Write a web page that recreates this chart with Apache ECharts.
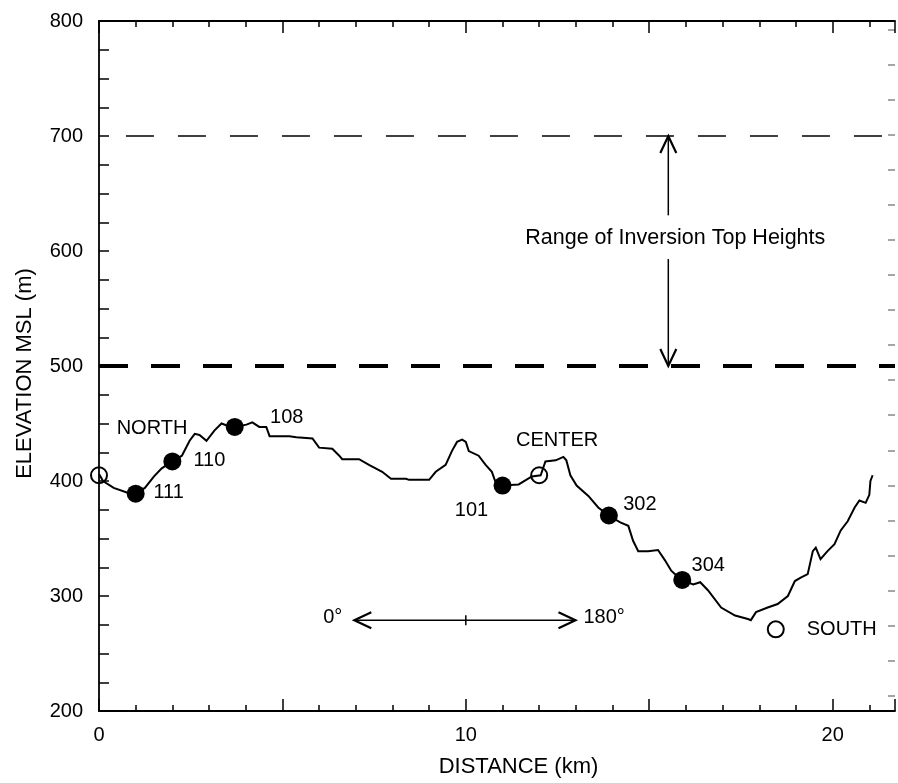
<!DOCTYPE html>
<html>
<head>
<meta charset="utf-8">
<script src="https://cdn.jsdelivr.net/npm/echarts@6/dist/echarts.min.js"></script>
<style>
html,body{margin:0;padding:0;background:#fff;}
#chart{width:898px;height:783px;}
</style>
</head>
<body>
<div id="chart"></div>
<script>
// ---- Data ----
const distanceKm = [0.0,0.11,0.4,0.76,1.0,1.25,1.5,1.71,2.0,2.26,2.47,2.61,2.74,2.93,3.15,3.34,3.5,3.7,4.02,4.18,4.37,4.56,4.65,5.19,5.38,5.82,6.0,6.36,6.55,6.63,7.09,7.36,7.72,7.96,8.37,8.45,9.0,9.18,9.45,9.62,9.76,9.9,10.0,10.08,10.35,10.54,10.71,10.8,11.0,11.44,11.8,12.04,12.17,12.45,12.66,12.74,12.85,13.02,13.34,13.61,13.89,14.21,14.43,14.56,14.7,14.97,15.24,15.43,15.6,15.87,16.2,16.39,16.6,16.96,17.34,17.69,17.77,17.91,18.23,18.5,18.78,18.97,19.13,19.32,19.46,19.54,19.67,19.86,20.05,20.22,20.41,20.6,20.73,20.9,21.0,21.03,21.09];
const elevationM = [406,400,394,390,389,394,404,411,417,422,435,441,440,435,444,450,448,447,449,451,447,447,439,439,438,437,429,428,422,419,419,414,408,402,402,401,401,408,414,426,434,436,434,426,422,414,408,400,396,397,404,405,417,418,421,418,405,396,387,377,370,364,361,348,339,339,340,331,322,314,310,312,305,290,283,280,279,286,290,293,300,313,316,319,339,342,332,339,345,357,365,377,383,381,388,400,405];

const stationNames = ['111','110','108','101','302','304'];
const stationKm    = [1.0, 2.0, 3.7, 11.0, 13.9, 15.9];
const stationElev  = [389, 417, 447, 396, 370, 314];

const siteNames = ['NORTH','CENTER','SOUTH'];
const siteKm    = [0.0, 12.0, 18.45];
const siteElev  = [405, 405, 271];

const inversionTopMax = 700;
const inversionTopMin = 500;

const xTickLabels = [0, 10, 20];
const yTickLabels = [200, 300, 400, 500, 600, 700, 800];
const rightFeetTicks = [700,800,900,1000,1100,1200,1300,1400,1500,1600,1700,1800,1900,2000,2100,2200,2300,2400,2500,2600];

const xMin = 0, xMax = 21.7, yMin = 200, yMax = 800;
const M_TO_FT = 3.28084;

// annotation geometry (data coordinates)
const rangeArrow = {x: 15.52, top: 700, gapTop: 631, gapBottom: 593, bottom: 500, labelX: 15.71, labelY: 611};
const azimuthArrow = {x0: 6.96, x1: 12.99, y: 279, tickX: 10};

// ---- Label layout (pixel offsets from marker centres) ----
const stationLabelOffset = {'111':[33,-1],'110':[37,-1],'108':[52,-9],'101':[-31,25],'302':[31,-11],'304':[26,-14]};
const siteLabelOffset = {'NORTH':[53,-47],'CENTER':[18,-35],'SOUTH':[66,0]};

const FONT = "'Liberation Sans', Arial, Helvetica, sans-serif";
const BLACK = '#000';

function bottomTopAxis(position, interval, tickLen, showLine, showLabel){
  return {
    type:'value', position, min:xMin, max:xMax, interval,
    axisLine:{show:showLine, onZero:false, lineStyle:{color:BLACK, width:1.8}},
    axisTick:{show:true, inside:true, length:tickLen, lineStyle:{color:BLACK, width:1.5}},
    axisLabel:{show:showLabel, margin:14, color:BLACK, fontSize:20, fontFamily:FONT,
      formatter:(v)=> xTickLabels.indexOf(v) >= 0 ? String(v) : ''},
    splitLine:{show:false}
  };
}

const xAxes = [
  Object.assign(bottomTopAxis('bottom', 1, 6, true, true), {
    name:'DISTANCE (km)', nameLocation:'middle', nameGap:45,
    nameTextStyle:{color:BLACK, fontSize:22, fontFamily:FONT, padding:[0,0,0,43]}
  }),
  bottomTopAxis('bottom', 5, 12, false, false),
  bottomTopAxis('top', 1, 6, true, false),
  bottomTopAxis('top', 5, 12, false, false)
];

const yAxes = [
  {
    type:'value', position:'left', min:yMin, max:yMax, interval:25,
    name:'ELEVATION MSL (m)', nameLocation:'middle', nameGap:63,
    nameTextStyle:{color:BLACK, fontSize:22, fontFamily:FONT, padding:[0,15,0,0]},
    axisLine:{show:true, onZero:false, lineStyle:{color:BLACK, width:1.8}},
    axisTick:{show:true, inside:true, length:10, lineStyle:{color:BLACK, width:1.5}},
    axisLabel:{show:true, margin:16, color:BLACK, fontSize:20, fontFamily:FONT,
      formatter:(v)=> yTickLabels.indexOf(v) >= 0 ? String(v) : ''},
    splitLine:{show:false}
  },
  {
    type:'value', position:'right', min:yMin*M_TO_FT, max:yMax*M_TO_FT,
    axisLine:{show:true, onZero:false, lineStyle:{color:'rgba(0,0,0,0)', width:1}},
    axisTick:{show:true, inside:true, length:7, customValues:rightFeetTicks, lineStyle:{color:'#888', width:1.5}},
    axisLabel:{show:false},
    splitLine:{show:false}
  }
];

function hLine(yv, width, dash, offset, startX){
  return {
    type:'line', xAxisIndex:0, yAxisIndex:0, silent:true, symbol:'none', z:2,
    data:[[startX, yv],[xMax, yv]],
    lineStyle:{color:BLACK, width, type:dash, dashOffset:offset, cap:'butt'}
  };
}

const annotationSeries = {
  type:'custom', xAxisIndex:0, yAxisIndex:0, silent:true, clip:false, z:5,
  data:[[0,0]],
  renderItem:function(params, api){
    const L = 17, W = 8;
    const t = api.coord([rangeArrow.x, rangeArrow.top]);
    const gt = api.coord([rangeArrow.x, rangeArrow.gapTop]);
    const gb = api.coord([rangeArrow.x, rangeArrow.gapBottom]);
    const b = api.coord([rangeArrow.x, rangeArrow.bottom]);
    const lbl = api.coord([rangeArrow.labelX, rangeArrow.labelY]);
    const a0 = api.coord([azimuthArrow.x0, azimuthArrow.y]);
    const a1 = api.coord([azimuthArrow.x1, azimuthArrow.y]);
    const at = api.coord([azimuthArrow.tickX, azimuthArrow.y]);
    const ls = {stroke:BLACK, lineWidth:1.5, fill:null};
    const hs = {stroke:BLACK, lineWidth:2.2, fill:null, lineJoin:'miter'};
    return {
      type:'group',
      children:[
        {type:'line', shape:{x1:t[0], y1:t[1], x2:gt[0], y2:gt[1]}, style:ls},
        {type:'line', shape:{x1:gb[0], y1:gb[1], x2:b[0], y2:b[1]}, style:ls},
        {type:'polyline', shape:{points:[[t[0]-W,t[1]+L],[t[0],t[1]],[t[0]+W,t[1]+L]]}, style:hs},
        {type:'polyline', shape:{points:[[b[0]-W,b[1]-L],[b[0],b[1]],[b[0]+W,b[1]-L]]}, style:hs},
        {type:'text', x:lbl[0], y:lbl[1], style:{text:'Range of Inversion Top Heights', fill:BLACK,
          fontSize:21.5, fontFamily:FONT, align:'center', verticalAlign:'middle'}},
        {type:'line', shape:{x1:a0[0], y1:a0[1], x2:a1[0], y2:a1[1]}, style:ls},
        {type:'line', shape:{x1:at[0], y1:at[1]-5, x2:at[0], y2:at[1]+5}, style:ls},
        {type:'polyline', shape:{points:[[a0[0]+L,a0[1]-W],[a0[0],a0[1]],[a0[0]+L,a0[1]+W]]}, style:hs},
        {type:'polyline', shape:{points:[[a1[0]-L,a1[1]-W],[a1[0],a1[1]],[a1[0]-L,a1[1]+W]]}, style:hs},
        {type:'text', x:a0[0]-12, y:a0[1]-3, style:{text:'0°', fill:BLACK, fontSize:20, fontFamily:FONT, align:'right', verticalAlign:'middle'}},
        {type:'text', x:a1[0]+8, y:a1[1]-3, style:{text:'180°', fill:BLACK, fontSize:20, fontFamily:FONT, align:'left', verticalAlign:'middle'}}
      ]
    };
  }
};

const chart = echarts.init(document.getElementById('chart'), null, {renderer:'canvas'});
chart.setOption({
  animation:false,
  backgroundColor:'#fff',
  textStyle:{fontFamily:FONT},
  grid:{left:99, right:1, top:21, bottom:69, containLabel:false},
  xAxis:xAxes,
  yAxis:yAxes,
  series:[
    hLine(inversionTopMax, 1.5, [28,24], 28, 0.08),
    hLine(inversionTopMin, 4, [29,23], 0, 0),
    {
      type:'line', xAxisIndex:0, yAxisIndex:0, symbol:'none', z:3,
      data: distanceKm.map((x,i)=>[x, elevationM[i]]),
      lineStyle:{color:BLACK, width:2, join:'miter'}
    },
    {
      type:'scatter', xAxisIndex:0, yAxisIndex:0, z:4, symbol:'circle', symbolSize:18,
      itemStyle:{color:BLACK, opacity:1},
      data: stationNames.map((n,i)=>({
        name:n, value:[stationKm[i], stationElev[i]],
        label:{show:true, position:'inside', offset:stationLabelOffset[n], formatter:n,
          color:BLACK, fontSize:20, fontFamily:FONT, align:'center', verticalAlign:'middle'}
      }))
    },
    {
      type:'scatter', xAxisIndex:0, yAxisIndex:0, z:4, symbol:'circle', symbolSize:16,
      itemStyle:{color:'rgba(255,255,255,0)', borderColor:BLACK, borderWidth:2, opacity:1},
      data: siteNames.map((n,i)=>({
        name:n, value:[siteKm[i], siteElev[i]],
        label:{show:true, position:'inside', offset:siteLabelOffset[n], formatter:n,
          color:BLACK, fontSize:20, fontFamily:FONT, align:'center', verticalAlign:'middle'}
      }))
    },
    annotationSeries
  ]
});
</script>
</body>
</html>
